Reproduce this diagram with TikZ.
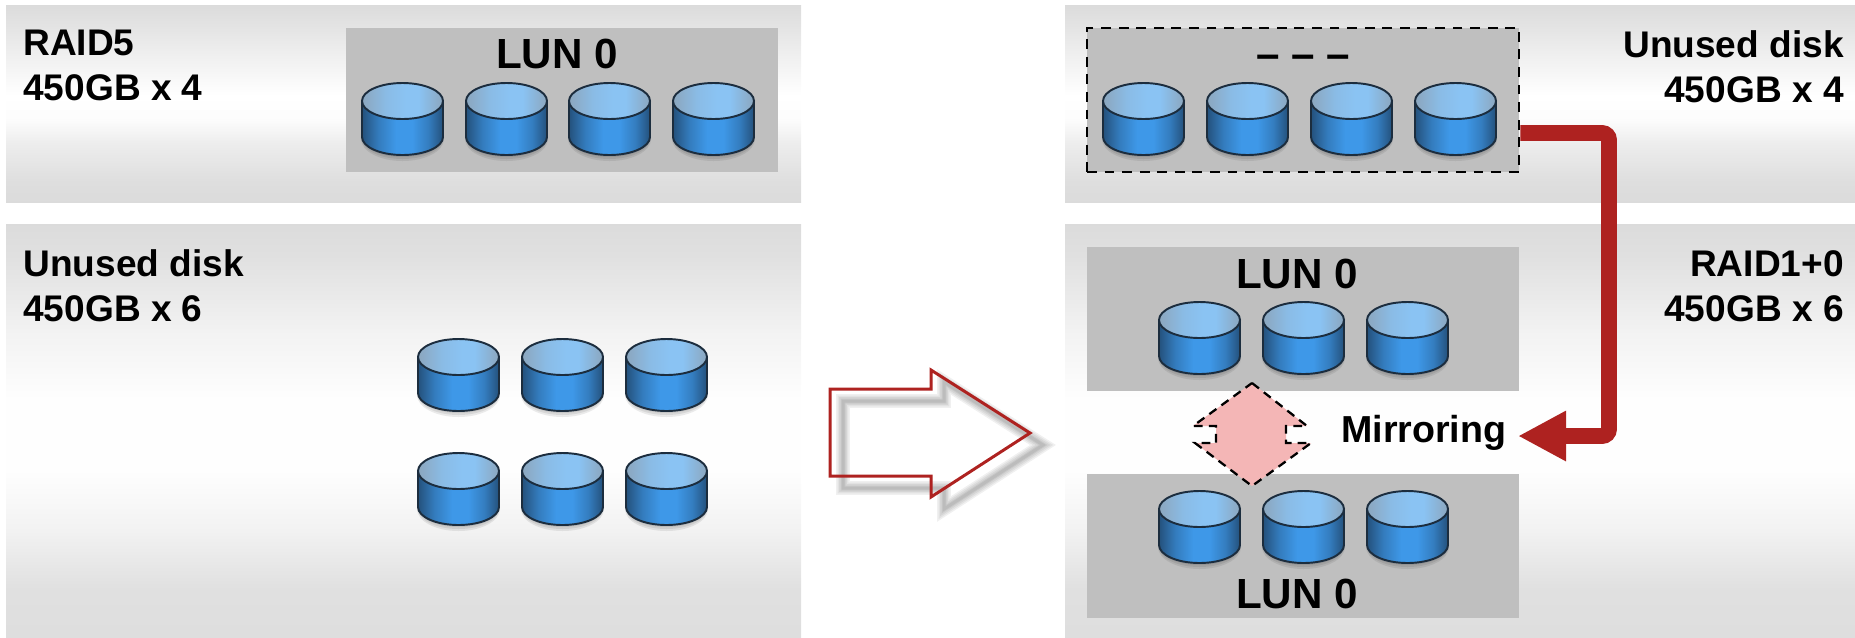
\documentclass[tikz,border=0pt]{standalone}
\usepackage{fontspec}
\setmainfont{Liberation Sans}
\usetikzlibrary{arrows.meta}

\definecolor{lungray}{HTML}{BFBFBF}
\definecolor{migred}{HTML}{AE2220}
\definecolor{diskline}{HTML}{1C2D3E}
\definecolor{pinkfill}{HTML}{F4B6B6}
\definecolor{diskdark}{HTML}{24517C}
\definecolor{diskmid}{HTML}{3E98E8}
\definecolor{disktop}{HTML}{8AC3F3}
\definecolor{disktopedge}{HTML}{8BA6BE}

\pgfdeclareverticalshading{panelshort}{100bp}{
  color(0bp)=(black!14); color(25bp)=(black!14); color(30bp)=(black!13);
  color(40bp)=(black!7); color(46bp)=(black!1); color(52bp)=(white);
  color(62bp)=(black!6); color(70bp)=(black!11); color(75bp)=(black!14); color(100bp)=(black!14)}
\pgfdeclareverticalshading{paneltall}{100bp}{
  color(0bp)=(black!13); color(25bp)=(black!13); color(31bp)=(black!12);
  color(38bp)=(black!5); color(45bp)=(black!0.5); color(54bp)=(black!0.5);
  color(62bp)=(black!5); color(71bp)=(black!12); color(75bp)=(black!14); color(100bp)=(black!14)}
\pgfdeclarehorizontalshading{diskside}{100bp}{
  color(0bp)=(diskdark); color(25bp)=(diskdark); color(35bp)=(diskmid!60!diskdark);
  color(46bp)=(diskmid); color(56bp)=(diskmid); color(66bp)=(diskmid!62!diskdark);
  color(75bp)=(diskdark); color(100bp)=(diskdark)}
\pgfdeclarehorizontalshading{disklid}{100bp}{
  color(0bp)=(disktopedge); color(25bp)=(disktopedge); color(40bp)=(disktop!75!disktopedge);
  color(52bp)=(disktop); color(60bp)=(disktop); color(75bp)=(disktopedge); color(100bp)=(disktopedge)}

\tikzset{
    lunbox/.style={fill=lungray, inner sep=0pt, minimum width=8.64cm, minimum height=2.88cm},
    luntext/.style={font=\fontsize{24}{28}\selectfont\bfseries, inner sep=0pt, anchor=base},
    sidetext/.style={font=\fontsize{21.1}{25.5}\selectfont\bfseries, inner sep=0pt},
}

% one disk, #1 = left edge, #2 = top edge
\newcommand{\disk}[2]{
    \begin{scope}[shift={(#1,#2)}]
        \foreach \g in {5,3,1}
            \fill[black, opacity=0.08] (40.5,56) ellipse [x radius=39+\g/2, y radius=17+\g];
        \shade[shading=diskside]
            (0,18) -- (0,54) arc [start angle=180, end angle=0, x radius=40.5, y radius=18] -- (81,18) -- cycle;
        \draw[diskline, line width=1.1pt]
            (0,18) -- (0,54) arc [start angle=180, end angle=0, x radius=40.5, y radius=18] -- (81,18);
        \shade[shading=disklid] (40.5,18) ellipse [x radius=40.5, y radius=18];
        \draw[diskline, line width=1.1pt] (40.5,18) ellipse [x radius=40.5, y radius=18];
    \end{scope}
}

\begin{document}
\begin{tikzpicture}[x=0.02cm, y=-0.02cm]
    \useasboundingbox (0,0) rectangle (1855,637);

    % panels
    \shade[shading=panelshort] (6,5) rectangle (801,202);
    \shade[shading=paneltall] (6,224) rectangle (801,637);
    \shade[shading=panelshort] (1065,5) rectangle (1855,202);
    \shade[shading=paneltall] (1065,224) rectangle (1855,637);

    % gray boxes
    \node[lunbox] (raidbox) at (562,100) {};
    \node[lunbox, draw=black, line width=1.6pt, dash pattern=on 5.6pt off 4.4pt] (unusedbox) at (1303,100) {};
    \node[lunbox] (mirrorbox) at (1303,319) {};
    \node[lunbox] (copybox) at (1303,546) {};

    \node[luntext] (raidlun) at (557,68) {LUN 0};
    \node[luntext] (unusedlun) at (1303,68) {– – –};
    \node[luntext] (mirrorlun) at (1297,288) {LUN 0};
    \node[luntext] (copylun) at (1297,608) {LUN 0};

    % side labels
    \node[sidetext, anchor=north west, align=left] (raidlabel) at (23,30) {RAID5\\450GB x 4};
    \node[sidetext, anchor=north west, align=left] (sparelabel) at (23,249) {Unused disk\\450GB x 6};
    \node[sidetext, anchor=north east, align=right] (unusedlabel) at (1844,30) {Unused disk\\450GB x 4};
    \node[sidetext, anchor=north east, align=right] (mirrorlabel) at (1844,250) {RAID1+0\\450GB x 6};
    \node[font=\fontsize{21.4}{26}\selectfont\bfseries, inner sep=0pt, anchor=base west] (mirrortext) at (1341,442) {Mirroring};

    % disks
    \foreach \x in {362,466,569,673} \disk{\x}{83};
    \foreach \x in {1103,1207,1311,1415} \disk{\x}{83};
    \foreach \x in {418,522,626} {
        \disk{\x}{339}
        \disk{\x}{453}
    }
    \foreach \x in {1159,1263,1367} {
        \disk{\x}{302}
        \disk{\x}{491}
    }

    % big arrow in the middle
    \foreach \w in {14,11,8,5,3}
        \draw[black, opacity=0.06, line width=\w*0.567pt, shift={(13,12)}]
            (830,389) -- (931,389) -- (931,370) -- (1030,433) -- (931,497) -- (931,476) -- (830,476) -- cycle;
    \draw[migred, line width=1.7pt, miter limit=4]
        (830,389) -- (931,389) -- (931,370) -- (1030,433) -- (931,497) -- (931,476) -- (830,476) -- cycle;

    % pink double arrow
    \coordinate (a) at (1252,383);
    \coordinate (b) at (1307,426);
    \coordinate (c) at (1286,426);
    \coordinate (d) at (1286,443);
    \coordinate (e) at (1311,443);
    \coordinate (f) at (1252,486);
    \coordinate (g) at (1195,443);
    \coordinate (h) at (1216,443);
    \coordinate (i) at (1216,426);
    \coordinate (j) at (1193,426);

    \fill[pinkfill] (a) -- (b) -- (c) -- (d) -- (e) -- (f) -- (g) -- (h) -- (i) -- (j) -- cycle;
    \draw[black, line width=1.3pt, dash pattern=on 5pt off 3.5pt] (a) -- (b) -- (c) -- (d) -- (e) -- (f) -- (g) -- (h) -- (i) -- (j) -- cycle;

    % red connector
    \coordinate (tostart) at (unusedbox.east |- 0,133);
    \coordinate (toend) at (1518,436);
    \draw[migred, line width=9pt, rounded corners=4pt, -{Triangle[length=0.96cm, width=0.94cm]}]
        (tostart) -- (1609,133) -- (1609,436) -- (toend);
\end{tikzpicture}
\end{document}
